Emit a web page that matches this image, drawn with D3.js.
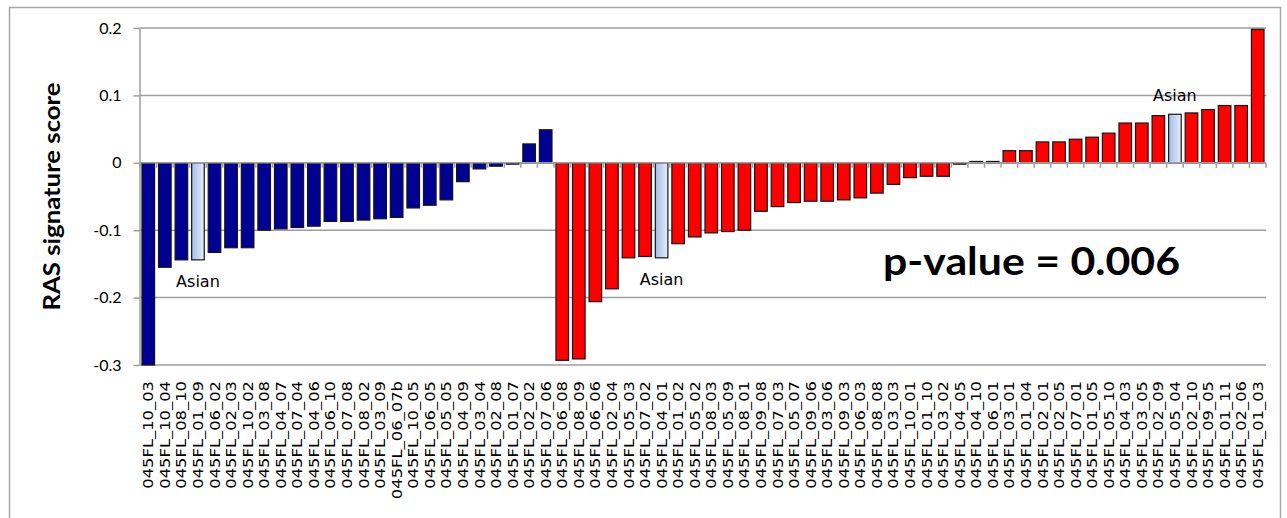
<!DOCTYPE html>
<html>
<head>
<meta charset="utf-8">
<script src="https://cdn.jsdelivr.net/npm/d3@7"></script>
<style>
  body { margin: 0; background: #fff; }
  svg { display: block; }
</style>
</head>
<body>
<svg id="chart"></svg>
<script>
// samples in the first (blue) group, sorted by score
const blueSamples = [
  '045FL_10_03', '045FL_10_04', '045FL_08_10', '045FL_01_09', '045FL_06_02',
  '045FL_02_03', '045FL_10_02', '045FL_03_08', '045FL_04_07', '045FL_07_04',
  '045FL_04_06', '045FL_06_10', '045FL_07_08', '045FL_08_02', '045FL_03_09',
  '045FL_06_07b', '045FL_10_05', '045FL_06_05', '045FL_05_05', '045FL_04_09',
  '045FL_03_04', '045FL_02_08', '045FL_01_07', '045FL_02_02', '045FL_07_06'
];
const blueScores = [
  -0.300, -0.155, -0.144, -0.144, -0.133, -0.126, -0.126, -0.100, -0.098, -0.096,
  -0.094, -0.087, -0.087, -0.085, -0.083, -0.081, -0.067, -0.063, -0.055, -0.028,
  -0.009, -0.005, -0.002, 0.028, 0.049
];

// samples in the second (red) group
const redSamples = [
  '045FL_06_08', '045FL_08_09', '045FL_06_06', '045FL_02_04', '045FL_05_03',
  '045FL_07_02', '045FL_04_01', '045FL_01_02', '045FL_05_02', '045FL_08_03',
  '045FL_05_09', '045FL_08_01', '045FL_09_08', '045FL_07_03', '045FL_05_07',
  '045FL_09_06', '045FL_03_06', '045FL_09_03', '045FL_06_03', '045FL_08_08',
  '045FL_03_03', '045FL_10_01', '045FL_01_10', '045FL_03_02', '045FL_04_05',
  '045FL_04_10', '045FL_06_01', '045FL_03_01', '045FL_01_04', '045FL_02_01',
  '045FL_02_05', '045FL_07_01', '045FL_01_05', '045FL_05_10', '045FL_04_03',
  '045FL_03_05', '045FL_02_09', '045FL_05_04', '045FL_02_10', '045FL_09_05',
  '045FL_01_11', '045FL_02_06', '045FL_01_03'
];
const redScores = [
  -0.293, -0.291, -0.206, -0.187, -0.141, -0.139, -0.141, -0.120, -0.110, -0.104,
  -0.102, -0.100, -0.072, -0.065, -0.059, -0.057, -0.057, -0.055, -0.052, -0.045,
  -0.032, -0.022, -0.020, -0.020, -0.002, 0.002, 0.002, 0.018, 0.018, 0.031,
  0.031, 0.035, 0.038, 0.044, 0.059, 0.059, 0.070, 0.072, 0.074, 0.079,
  0.085, 0.085, 0.198
];

const asianSamples = ['045FL_01_09', '045FL_04_01', '045FL_05_04'];
const yTicks = [0.2, 0.1, 0, -0.1, -0.2, -0.3];
const yTitle = 'RAS signature score';
const pValueText = 'p-value = 0.006';

const WIDTH = 1287;
const HEIGHT = 518;
const PLOT = {left: 139.5, right: 1266, top: 28, bottom: 365};

const data = blueSamples.map((s, i) => ({sample: s, score: blueScores[i], group: 'blue'}))
  .concat(redSamples.map((s, i) => ({sample: s, score: redScores[i], group: 'red'})));

const svg = d3.select('#chart')
  .attr('width', WIDTH)
  .attr('height', HEIGHT);

const defs = svg.append('defs');
const grad = defs.append('linearGradient')
  .attr('id', 'asianFill')
  .attr('x1', '0%').attr('x2', '100%').attr('y1', '0%').attr('y2', '0%');
grad.append('stop').attr('offset', '0%').attr('stop-color', '#a4bde8');
grad.append('stop').attr('offset', '100%').attr('stop-color', '#e6edf8');

// outer chart frame
svg.append('rect')
  .attr('x', 9.5).attr('y', 7.5)
  .attr('width', 1271).attr('height', 600)
  .attr('fill', 'none')
  .attr('stroke', '#a6a6a6')
  .attr('stroke-width', 1.5);

const x = d3.scaleBand()
  .domain(data.map((d) => d.sample))
  .range([PLOT.left + 0.5, PLOT.right])
  .paddingInner(0.24)
  .paddingOuter(0.12);

const y = d3.scaleLinear()
  .domain([-0.3, 0.2])
  .range([PLOT.bottom, PLOT.top]);

// gridlines
svg.append('g')
  .attr('class', 'grid')
  .selectAll('line')
  .data(yTicks)
  .enter()
  .append('line')
  .attr('x1', PLOT.left)
  .attr('x2', PLOT.right)
  .attr('y1', (d) => y(d))
  .attr('y2', (d) => y(d))
  .attr('stroke', '#9e9e9e')
  .attr('stroke-width', 1.5);

// y axis
const yAxis = d3.axisLeft(y)
  .tickValues(yTicks)
  .tickSizeInner(6)
  .tickSizeOuter(0)
  .tickPadding(12)
  .tickFormat((d) => String(d));

const yG = svg.append('g')
  .attr('transform', `translate(${PLOT.left}, 0)`)
  .call(yAxis);
yG.select('.domain').attr('stroke', '#9e9e9e').attr('stroke-width', 1.5);
yG.selectAll('.tick line').attr('stroke', '#9e9e9e').attr('stroke-width', 1.5);
yG.selectAll('.tick text')
  .attr('fill', '#000')
  .style('font-family', 'Lato, "Open Sans", sans-serif')
  .style('font-size', '16px');

// bars
svg.append('g')
  .selectAll('rect')
  .data(data)
  .enter()
  .append('rect')
  .attr('x', (d) => x(d.sample))
  .attr('width', x.bandwidth())
  .attr('y', (d) => Math.min(y(d.score), y(0)))
  .attr('height', (d) => Math.abs(y(d.score) - y(0)))
  .attr('fill', (d) => asianSamples.includes(d.sample) ? 'url(#asianFill)'
    : (d.group === 'blue' ? '#000092' : '#ff0000'))
  .attr('stroke', '#151515')
  .attr('stroke-width', 1.2);

// category axis at zero
const gap = (x.step() - x.bandwidth()) / 2;
const zeroG = svg.append('g');
zeroG.append('line')
  .attr('x1', PLOT.left).attr('x2', PLOT.right)
  .attr('y1', y(0)).attr('y2', y(0))
  .attr('stroke', '#9e9e9e')
  .attr('stroke-width', 1.5);
zeroG.selectAll('.xtick')
  .data(data.map((d) => x(d.sample) - gap).concat([x.range()[1]]))
  .enter()
  .append('line')
  .attr('class', 'xtick')
  .attr('x1', (d) => d).attr('x2', (d) => d)
  .attr('y1', y(0)).attr('y2', y(0) + 5)
  .attr('stroke', '#9e9e9e')
  .attr('stroke-width', 1.5);

// sample labels
svg.append('g')
  .selectAll('text')
  .data(data)
  .enter()
  .append('text')
  .attr('transform', (d) => `translate(${x(d.sample) + x.bandwidth() / 2}, 381) rotate(-90) scale(1.17, 1)`)
  .attr('text-anchor', 'end')
  .attr('dy', '0.36em')
  .style('font-family', '"DejaVu Sans", sans-serif')
  .style('font-size', '14px')
  .text((d) => d.sample);

// Asian annotations
svg.append('g')
  .selectAll('text')
  .data(data.filter((d) => asianSamples.includes(d.sample)))
  .enter()
  .append('text')
  .attr('x', (d) => x(d.sample) + x.bandwidth() / 2)
  .attr('y', (d) => d.score < 0 ? y(d.score) + 27 : y(d.score) - 13)
  .attr('text-anchor', 'middle')
  .style('font-family', '"DejaVu Sans", sans-serif')
  .style('font-size', '16px')
  .text('Asian');

// y title
svg.append('text')
  .attr('transform', `translate(60, ${(PLOT.top + PLOT.bottom) / 2}) rotate(-90) scale(1.17, 1)`)
  .attr('text-anchor', 'middle')
  .style('font-family', 'Lato, sans-serif')
  .style('font-weight', 'bold')
  .style('font-size', '22px')
  .text(yTitle);

// p-value
svg.append('text')
  .attr('x', 883)
  .attr('y', 275)
  .attr('textLength', 297)
  .attr('lengthAdjust', 'spacingAndGlyphs')
  .style('font-family', 'Lato, sans-serif')
  .style('font-weight', 'bold')
  .style('font-size', '39px')
  .text(pValueText);
</script>
</body>
</html>
